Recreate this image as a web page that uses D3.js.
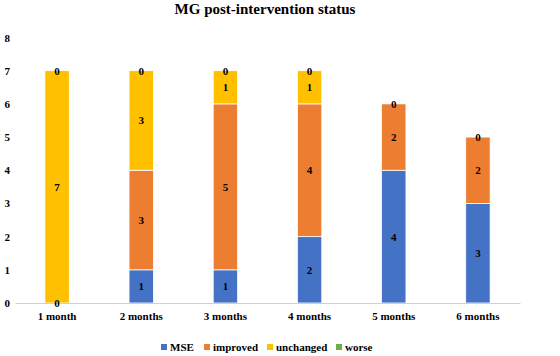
<!DOCTYPE html>
<html><head><meta charset="utf-8">
<script src="https://cdn.jsdelivr.net/npm/d3@7"></script>
<style>body{margin:0;background:#fff}svg{display:block}text{font-family:"Liberation Serif","Times New Roman",serif;font-weight:bold;fill:#000}</style>
</head><body><svg id="c" width="560" height="356"></svg>
<script>
const categories = ["1 month","2 months","3 months","4 months","5 months","6 months"];
const seriesNames = ["MSE","improved","unchanged","worse"];
const MSE = [0,1,1,2,4,3];
const improved = [0,3,5,4,2,2];
const unchanged = [7,3,1,1,0,0];
const worse = [0,0,0,0,0,0];
const yTicks = [0,1,2,3,4,5,6,7,8];
const colors = ["#4472C4","#ED7D31","#FFC000","#70AD47"];
const title = "MG post-intervention status";

const svg = d3.select("#c");
const rows = categories.map((c,i)=>({cat:c, MSE:MSE[i], improved:improved[i], unchanged:unchanged[i], worse:worse[i]}));
const stack = d3.stack().keys(seriesNames)(rows);
const x = d3.scaleBand().domain(categories).range([15,520]).paddingInner(0.71).paddingOuter(0.355);
const y = d3.scaleLinear().domain([0,8]).range([303,37.5]);

svg.append("text").attr("x",265).attr("y",14).attr("text-anchor","middle").style("font-size","15px").text(title);

// y axis labels
const yAxis = d3.axisLeft(y).tickValues(yTicks).tickSize(0).tickPadding(0);
const ya = svg.append("g").attr("transform","translate(10,0)").call(yAxis);
ya.select(".domain").remove();
ya.selectAll("text").style("font-size","11px").style("font-family","Liberation Serif, serif").style("font-weight","bold").attr("fill","#000");

// bars
stack.forEach((s,si)=>{
  svg.append("g").selectAll("rect").data(s).join("rect")
    .attr("x",d=>x(d.data.cat)).attr("width",x.bandwidth())
    .attr("y",d=>y(d[1])).attr("height",d=>Math.max(0,y(d[0])-y(d[1])))
    .attr("fill",colors[si]).attr("stroke","#fff").attr("stroke-width",0.8);
});

// x axis
const xAxis = d3.axisBottom(x).tickSize(0).tickPadding(9);
const xa = svg.append("g").attr("transform","translate(0,303)").call(xAxis);
xa.select(".domain").attr("stroke","#d0d0d0").attr("stroke-width",1);
xa.selectAll("text").style("font-size","11px").style("font-family","Liberation Serif, serif").style("font-weight","bold").attr("fill","#000");

// labels
const seen = new Set();
const labelG = svg.append("g");
stack.forEach((s,si)=>{
  s.forEach(d=>{
    const v = d[1]-d[0];
    const ym = (y(d[0])+y(d[1]))/2;
    const key = d.data.cat+"|"+Math.round(ym);
    if (seen.has(key)) return;
    seen.add(key);
    labelG.append("text").attr("x",x(d.data.cat)+x.bandwidth()/2).attr("y",ym+4)
      .attr("text-anchor","middle").style("font-size","11px").text(v);
  });
});

// legend
const legendX = [161,204,267,336];
const lg = svg.append("g");
seriesNames.forEach((n,i)=>{
  lg.append("rect").attr("x",legendX[i]).attr("y",344).attr("width",6).attr("height",6).attr("fill",colors[i]);
  lg.append("text").attr("x",legendX[i]+9).attr("y",351).style("font-size","11px").text(n);
});
</script></body></html>
